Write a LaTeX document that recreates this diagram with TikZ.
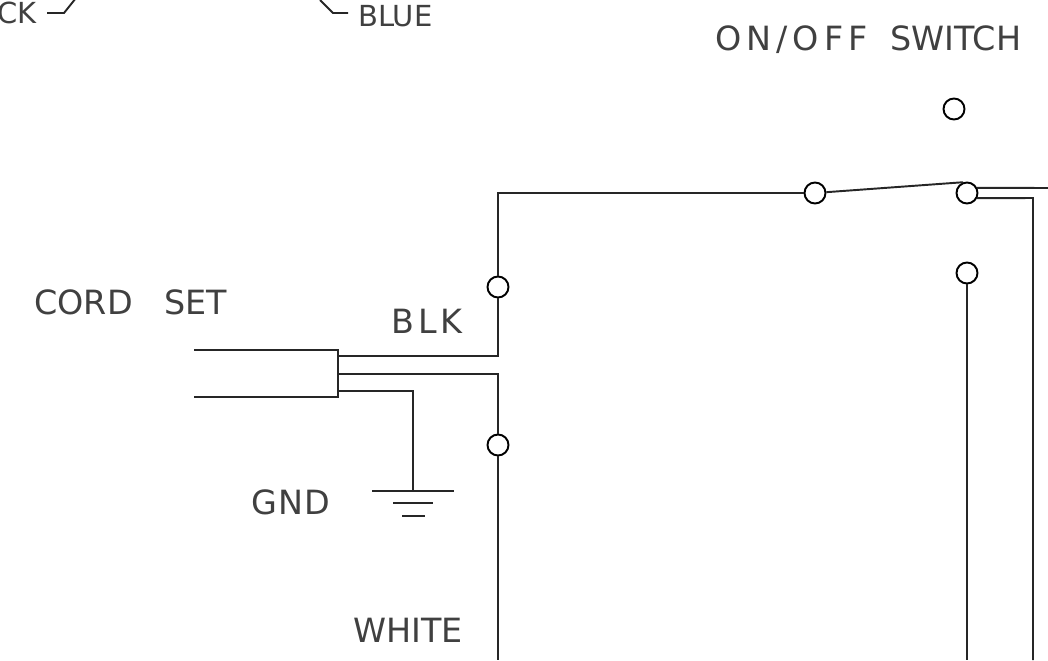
\documentclass[tikz,border=0pt]{standalone}
\usepackage{fontspec}
\setmainfont{DejaVu Sans}
\usetikzlibrary{calc}
\usetikzlibrary{positioning}
\tikzset{
	terminal/.style={circle, draw, line width=1.1pt, fill=white, inner sep=0pt, minimum size=0.42cm},
	wire/.style={line width=1.1pt, black!85},
	caption/.style={font=\fontsize{19}{20}\selectfont\addfontfeatures{LetterSpace=#1}, text=black!75, inner sep=0pt, anchor=base west},
	caption/.default=0,
	smallcaption/.style={font=\fontsize{16.5}{18}\selectfont, text=black!75, inner sep=0pt, anchor=base west}
}
\begin{document}
\begin{tikzpicture}[x=0.02cm, y=-0.02cm]
	\useasboundingbox (0,0) rectangle (1048,660);
	\begin{scope}
	\clip (0,0) rectangle (1048,660);
	\node[terminal] (swtop) at (954,109) {};
	\node[terminal] (swin) at (815,193) {};
	\node[terminal] (swout) at (967,193) {};
	\node[terminal] (swlow) at (967,273) {};
	\node[terminal] (blkterm) at (498,287) {};
	\node[terminal] (whtterm) at (498,445) {};

	\coordinate (blkcorner) at (498,193);
	\coordinate (blkjoin) at (498,356);
	\coordinate (blkstart) at (338,356);
	\coordinate (whtstart) at (338,374);
	\coordinate (whtjoin) at (498,374);
	\coordinate (whtend) at (498,660);
	\coordinate (jackettop) at (338,350);
	\coordinate (jacketbot) at (338,397);
	\coordinate (cordtop) at (194,350);
	\coordinate (cordbot) at (194,397);
	\coordinate (gndstart) at (338,391);
	\coordinate (gndbend) at (413,391);
	\coordinate (gndtop) at (413,491);
	\coordinate (outright) at (1048,188);
	\coordinate (loopbend) at (1033,198);
	\coordinate (loopend) at (1033,660);
	\coordinate (lowend) at (967,660);

	\draw[wire] (swin) -- (blkcorner) -- (blkterm);
	\draw[wire] (blkterm) -- (blkjoin) -- (blkstart);
	\draw[wire] (whtstart) -- (whtjoin) -- (whtterm);
	\draw[wire] (whtterm) -- (whtend);
	\draw[wire] (cordtop) -- (jackettop) -- (jacketbot) -- (cordbot);
	\draw[wire] (gndstart) -- (gndbend) -- (gndtop);
	\draw[wire] (swin) -- (swout.110);
	\draw[wire] (swout.27) -- (outright);
	\draw[wire] (swout.-27) -- (loopbend) -- (loopend);
	\draw[wire] (swlow) -- (lowend);

	% ground symbol
	\draw[wire] ($(gndtop)+(-41,0)$) -- ($(gndtop)+(41,0)$);
	\draw[wire] ($(gndtop)+(-20,12)$) -- ($(gndtop)+(20,12)$);
	\draw[wire] ($(gndtop)+(-11,25)$) -- ($(gndtop)+(12,25)$);

	% leads cut off at the top edge
	\node[smallcaption] (blacktext) at (-3,23) {CK};
	\node[smallcaption] (bluetext) at (358,26) {BLUE};
	\coordinate (blackend) at (47,13);
	\coordinate (bluestart) at (320,0);
	\draw[wire] (blackend) -- (64,13) -- (76,-2);
	\draw[wire] (bluestart) -- (333,13) -- (348,13);

	\node[caption] (switchtext) at (715,50) {{\addfontfeatures{LetterSpace=15}ON/OFF}\hspace{13pt}SWITCH};
	\node[caption] (cordtext) at (34,314) {CORD\hspace{18pt}SET};
	\node[caption=12] (blktext) at (391,333) {BLK};
	\node[caption=3] (gndtext) at (251,514) {GND};
	\node[caption] (whitetext) at (353,642) {WHITE};
	\end{scope}
\end{tikzpicture}
\end{document}
